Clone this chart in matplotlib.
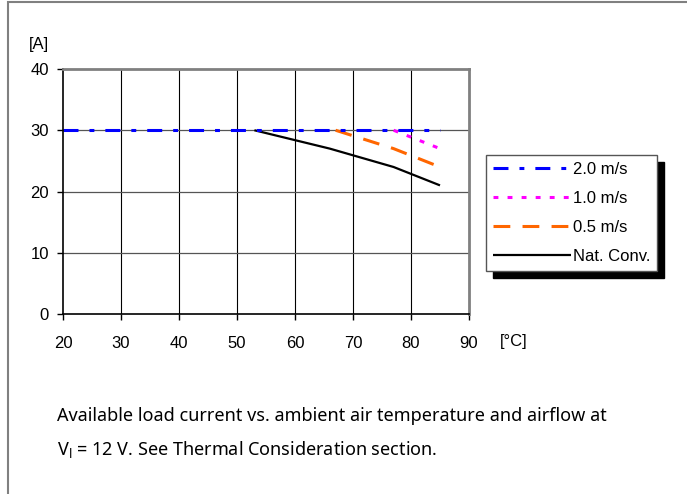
import numpy as np
import matplotlib
matplotlib.use("Agg")
import matplotlib.pyplot as plt
from matplotlib.patches import Rectangle

# data (each curve drawn from where it leaves 30 A)
t_20 = [20, 85]
i_20 = [30, 30]
t_10 = [77, 85]
i_10 = [30, 27]
t_05 = [67, 77, 85]
i_05 = [30, 27, 24]
t_nc = [53, 66, 77, 85]
i_nc = [30, 27, 24, 21]
labels = ["2.0 m/s", "1.0 m/s", "0.5 m/s", "Nat. Conv."]
xticks = [20, 30, 40, 50, 60, 70, 80, 90]
yticks = [0, 10, 20, 30, 40]

W, H = 687, 494
fig = plt.figure(figsize=(W / 100, H / 100), dpi=100)
plt.rcParams['font.family'] = ['Liberation Sans', 'DejaVu Sans']
plt.rcParams['mathtext.fontset'] = 'custom'
plt.rcParams['mathtext.rm'] = 'Noto Sans'

# outer frame of the figure block
fig.patches.append(Rectangle((8 / W, -0.05), 1.2, 1 - 2 / H + 0.05, transform=fig.transFigure,
                             fill=False, ec="#808080", lw=1.5))

ax = fig.add_axes([63 / W, 1 - 314 / H, (469 - 63) / W, (314 - 69) / H])
ax.set_xlim(20, 90)
ax.set_ylim(0, 40)
ax.set_xticks(xticks)
ax.set_yticks(yticks)
ax.tick_params(labelsize=12, length=4, width=1, direction="out")
ax.tick_params(axis="x", pad=12)
ax.tick_params(axis="y", pad=6)
for x in xticks[1:-1]:
    ax.axvline(x, color="black", lw=0.8, zorder=0)
for y in yticks[1:-1]:
    ax.axhline(y, color="#555555", lw=0.9, zorder=0)
ax.spines["left"].set_color("black")
ax.spines["bottom"].set_color("black")
ax.spines["left"].set_linewidth(1.2)
ax.spines["bottom"].set_linewidth(1.2)
ax.spines["top"].set_color("#808080")
ax.spines["right"].set_color("#808080")
ax.spines["top"].set_linewidth(2)
ax.spines["right"].set_linewidth(2)

l4, = ax.plot(t_nc, i_nc, color="black", lw=1.6, solid_capstyle="butt")
l3, = ax.plot(t_05, i_05, color="#ff6600", lw=2.2, dashes=(5.5, 4.0))
l2, = ax.plot(t_10, i_10, color="#ff00ff", lw=2.2, dashes=(1.6, 3.0))
l1, = ax.plot(t_20, i_20, color="#0000ff", lw=2.2, dashes=(4.9, 3.6, 1.6, 3.6))
for ln in (l1, l2, l3):
    ln.set_dash_capstyle("butt")

leg = fig.legend([l1, l2, l3, l4], labels, loc="upper left",
                 bbox_to_anchor=(486 / W, 1 - 155 / H), fontsize=12,
                 handlelength=4.7, handletextpad=0.1, labelspacing=0.85,
                 borderpad=0.4, borderaxespad=0, fancybox=False,
                 shadow={"color": "black", "alpha": 1.0, "ox": 5, "oy": -5})
leg.get_frame().set_edgecolor("#555555")
leg.get_frame().set_linewidth(1.0)

fig.text(29 / W, 1 - 44 / H, "[A]", fontsize=12, va="center", ha="left")
fig.text(500 / W, 1 - 341 / H, "[°C]", fontsize=12, va="center", ha="left")

cap = ["Noto Sans", "DejaVu Sans"]
fig.text(57 / W, 1 - 416 / H, "Available load current vs. ambient air temperature and airflow at",
         fontsize=13, family=cap, va="center", ha="left")
fig.text(57 / W, 1 - 449 / H, r"V$_\mathregular{l}$ = 12 V. See Thermal Consideration section.",
         fontsize=13, family=cap, va="center", ha="left")

fig.savefig("out.png", dpi=100)
